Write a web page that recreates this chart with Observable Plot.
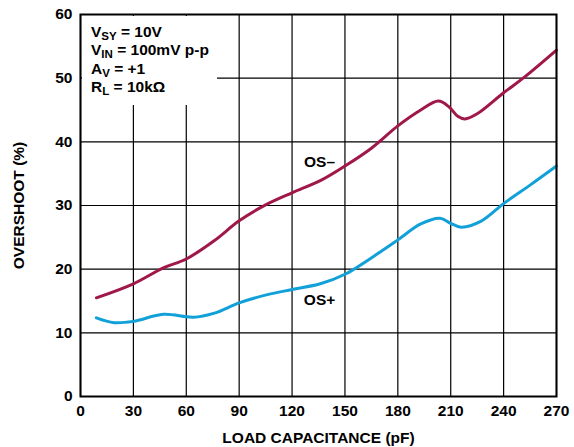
<!DOCTYPE html>
<html><head><meta charset="utf-8">
<script src="https://cdn.jsdelivr.net/npm/d3@7"></script>
<script src="https://cdn.jsdelivr.net/npm/@observablehq/plot@0.6"></script>
<style>
body{margin:0;background:#fff;}
#wrap{position:relative;width:574px;height:447px;}
#note{position:absolute;left:82px;top:16px;width:126px;height:82px;background:#fff;
  font:bold 15.5px "Liberation Sans",Arial,sans-serif;color:#000;padding:7px 0 0 9px;line-height:18.3px;}
#note sub{font-size:11.5px;vertical-align:-3px;line-height:0;}
</style>
</head><body>
<div id="wrap"><div id="chart"></div>
<div id="note">V<sub>SY</sub> = 10V<br>V<sub>IN</sub> = 100mV p-p<br>A<sub>V</sub> = +1<br>R<sub>L</sub> = 10kΩ</div>
</div>
<script>
const capMinus = [9, 30, 47, 60, 76, 90, 105, 120, 136, 150, 165, 180, 193, 203, 209, 214, 218, 225, 240, 252, 270];
const osMinus  = [15.5, 17.7, 20.2, 21.6, 24.5, 27.6, 30.1, 32.0, 33.9, 36.2, 39.0, 42.5, 45.0, 46.4, 45.5, 44.0, 43.6, 44.4, 47.7, 50.2, 54.4];
const capPlus  = [9, 19, 30, 47, 64, 76, 90, 106, 120, 136, 150, 171, 180, 193, 204, 210, 216, 227, 240, 255, 270];
const osPlus   = [12.35, 11.6, 11.8, 12.9, 12.45, 13.1, 14.7, 16.0, 16.8, 17.7, 19.2, 22.9, 24.6, 27.1, 28.0, 27.2, 26.6, 27.5, 30.3, 33.2, 36.2];
const xTicks = [0, 30, 60, 90, 120, 150, 180, 210, 240, 270];
const yTicks = [0, 10, 20, 30, 40, 50, 60];
const labelText = ["OS\u2013", "OS+"];
const labelX = [135.6, 135.6];
const labelY = [36.9, 15.1];

const minusData = capMinus.map((c, i) => ({c, v: osMinus[i]}));
const plusData = capPlus.map((c, i) => ({c, v: osPlus[i]}));
const labels = labelText.map((t, i) => ({t, x: labelX[i], y: labelY[i]}));

const chart = Plot.plot({
  width: 574, height: 447,
  marginLeft: 80, marginRight: 18, marginTop: 14, marginBottom: 51,
  style: {fontFamily: '"Liberation Sans", Arial, sans-serif', fontWeight: "bold", fontSize: "15px", color: "#000", background: "#fff"},
  x: {domain: [0, 270]},
  y: {domain: [0, 60]},
  marks: [
    Plot.gridX(xTicks, {stroke: "#000", strokeOpacity: 1, strokeWidth: 1.2}),
    Plot.gridY(yTicks, {stroke: "#000", strokeOpacity: 1, strokeWidth: 1.2}),
    Plot.axisX(xTicks, {tickSize: 0, tickPadding: 8, label: "LOAD CAPACITANCE (pF)", labelAnchor: "center", labelArrow: "none", labelOffset: 46, fontSize: 15.5}),
    Plot.axisY(yTicks, {tickSize: 0, tickPadding: 8, label: "OVERSHOOT (%)", labelAnchor: "center", labelArrow: "none", labelOffset: 68, fontSize: 15.5}),
    Plot.line(minusData, {x: "c", y: "v", stroke: "#a0174a", strokeWidth: 3, curve: "catmull-rom"}),
    Plot.line(plusData, {x: "c", y: "v", stroke: "#12a0d8", strokeWidth: 3, curve: "catmull-rom"}),
    Plot.text(labels, {x: "x", y: "y", text: "t", fontSize: 15.5, fontWeight: "bold", fill: "#000"}),
    Plot.frame({stroke: "#000", strokeWidth: 2})
  ]
});
document.getElementById("chart").appendChild(chart);
</script>
</body></html>
